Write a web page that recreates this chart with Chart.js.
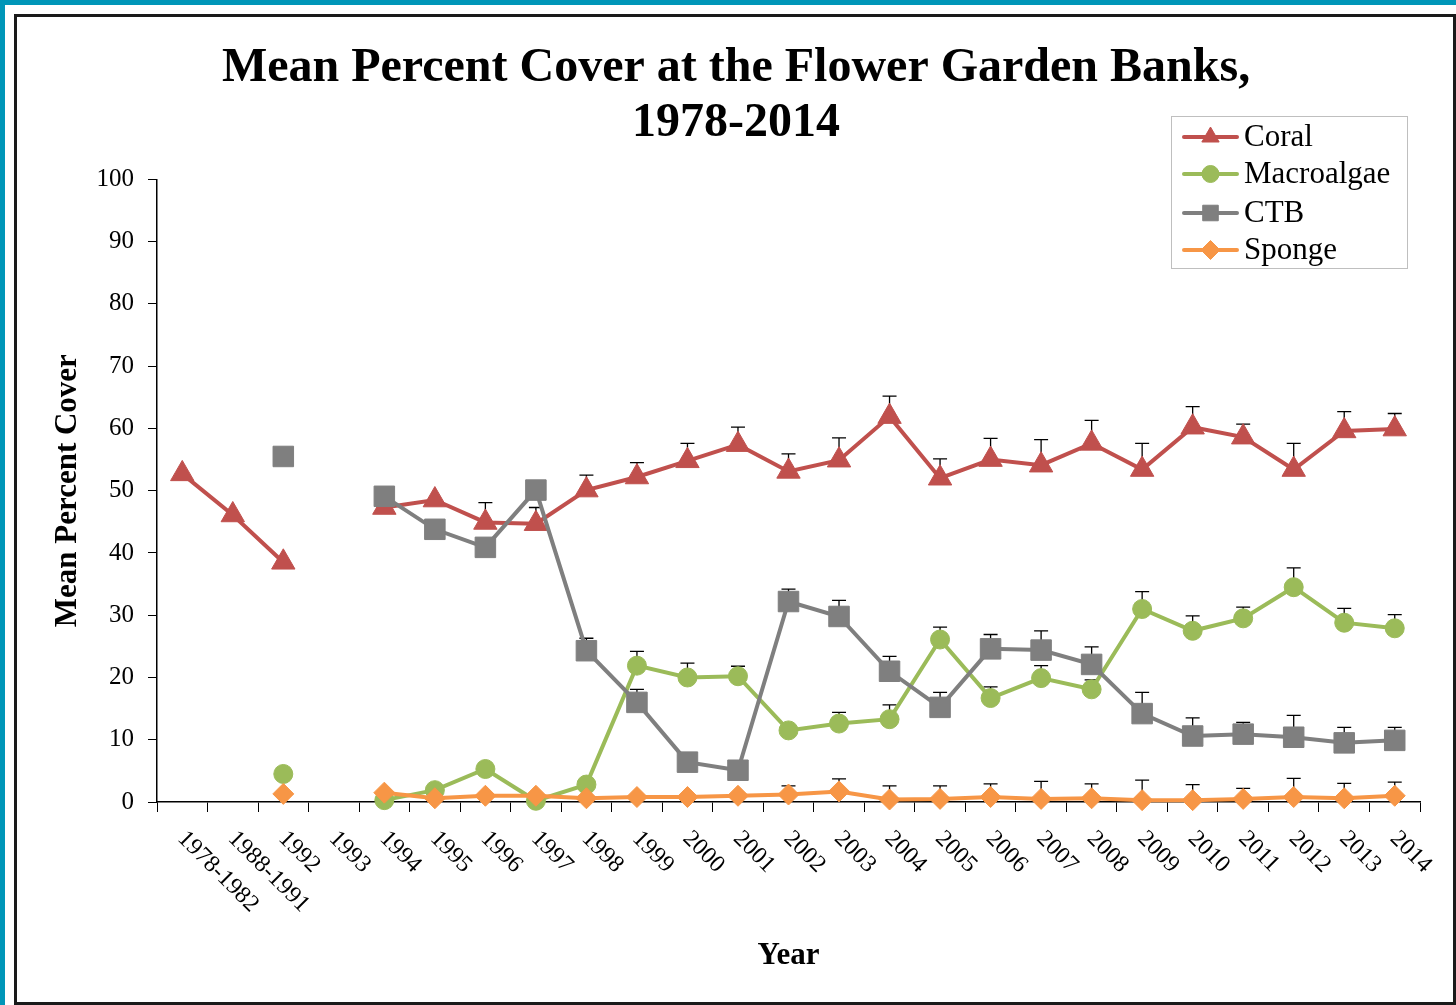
<!DOCTYPE html>
<html><head><meta charset="utf-8">
<script src="https://cdn.jsdelivr.net/npm/chart.js@4.4.0/dist/chart.umd.min.js"></script>
<style>
html,body{margin:0;padding:0;background:#fff;}
body{width:1456px;height:1005px;position:relative;overflow:hidden;}
#teal{position:absolute;left:0;top:0;width:1456px;height:1005px;border-top:5px solid #0096B8;border-left:5px solid #0096B8;box-sizing:border-box;}
#frame{position:absolute;left:14px;top:14px;width:1442px;height:991px;border:3px solid #1a1a1a;box-sizing:border-box;background:#fff;}
#c{position:absolute;left:17px;top:17px;}
</style></head><body>
<div id="teal"></div><div id="frame"></div>
<canvas id="c" width="1436" height="985"></canvas>
<script>
const categories = ['1978-1982','1988-1991','1992','1993','1994','1995','1996','1997','1998','1999','2000','2001','2002','2003','2004','2005','2006','2007','2008','2009','2010','2011','2012','2013','2014'];
const coral = [52.7,46.1,38.5,null,47.3,48.5,44.9,44.7,50.1,52.2,54.8,57.4,53.1,54.9,61.9,52.0,55.0,54.1,57.6,53.4,60.2,58.6,53.4,59.6,59.9];
const coralErrTop = [null,null,null,null,null,null,48.1,47.3,52.5,54.5,57.6,60.2,55.9,58.5,65.2,55.1,58.4,58.2,61.3,57.6,63.5,60.7,57.6,62.7,62.4];
const macroalgae = [null,null,4.5,null,0.3,1.9,5.3,0.2,2.8,21.9,20.0,20.2,11.5,12.6,13.3,26.1,16.7,19.9,18.1,31.0,27.5,29.5,34.5,28.8,27.9];
const macroalgaeErrTop = [null,null,null,null,null,null,null,null,null,24.2,22.3,21.8,null,14.4,15.6,28.1,18.5,21.9,19.6,33.8,29.9,31.3,37.6,31.1,30.1];
const ctb = [null,null,55.5,null,49.1,43.8,40.9,50.1,24.3,16.0,6.4,5.1,32.2,29.8,21.0,15.2,24.6,24.4,22.1,14.2,10.6,10.9,10.4,9.5,9.9];
const ctbErrTop = [null,null,null,null,null,null,null,null,26.3,18.1,null,null,34.2,32.4,23.4,17.6,26.9,27.5,24.9,17.6,13.5,12.8,13.9,12.0,12.0];
const sponge = [null,null,1.3,null,1.5,0.6,1.0,1.0,0.6,0.8,0.8,1.0,1.2,1.7,0.4,0.5,0.8,0.5,0.6,0.3,0.3,0.5,0.8,0.6,1.0];
const spongeErrTop = [null,null,null,null,null,null,null,null,null,null,null,null,2.6,3.7,2.6,2.6,2.9,3.3,2.9,3.5,2.8,2.2,3.8,3.0,3.2];
const yTicks = [0,10,20,30,40,50,60,70,80,90,100];

const SERIF = '"Liberation Serif", "Times New Roman", serif';
const COL = {coral:'#C0504D', macro:'#9BBB59', ctb:'#7F7F7F', sponge:'#F79646'};

function ds(label, data, err, color, style, r, order){
  return {label, data, errTop: err, borderColor: color, backgroundColor: color,
    pointBackgroundColor: color, pointBorderColor: color, pointBorderWidth: 1,
    borderWidth: 4, pointStyle: style, pointRadius: r, pointHoverRadius: r,
    spanGaps: false, tension: 0, order, clip: false,
    legendStyle: style};
}

const titleShiftPlugin = {
  id: 'titleshift',
  afterLayout(chart){
    if (chart.titleBlock) { chart.titleBlock.right += 35; chart.titleBlock.width += 35; }
  }
};

const errorBarPlugin = {
  id: 'errbars',
  beforeDatasetsDraw(chart){
    const ctx = chart.ctx, xs = chart.scales.x, ys = chart.scales.y;
    ctx.save();
    ctx.strokeStyle = '#000'; ctx.lineWidth = 1.3;
    chart.data.datasets.forEach(d => {
      (d.errTop || []).forEach((e, i) => {
        if (e == null || d.data[i] == null) return;
        const x = xs.getPixelForValue(i);
        const y0 = ys.getPixelForValue(d.data[i]);
        const y1 = ys.getPixelForValue(e);
        ctx.beginPath();
        ctx.moveTo(x, y0); ctx.lineTo(x, y1);
        ctx.moveTo(x - 7, y1); ctx.lineTo(x + 7, y1);
        ctx.stroke();
      });
    });
    ctx.restore();
  }
};

const xLabelPlugin = {
  id: 'xlabels',
  afterDraw(chart){
    const ctx = chart.ctx, xs = chart.scales.x;
    ctx.save();
    ctx.font = '24px ' + SERIF; ctx.fillStyle = '#000';
    ctx.textAlign = 'left'; ctx.textBaseline = 'middle';
    categories.forEach((lab, i) => {
      const px = xs.getPixelForValue(i);
      ctx.save();
      ctx.translate(px - 1, xs.top + 33);
      ctx.rotate(Math.PI / 4);
      ctx.fillText(lab, 0, 0);
      ctx.restore();
    });
    ctx.restore();
  }
};

const legendPlugin = {
  id: 'boxlegend',
  afterDraw(chart){
    const ctx = chart.ctx;
    const lx = 1154, ly = 99, lw = 236, lh = 152;
    ctx.save();
    ctx.fillStyle = '#fff'; ctx.fillRect(lx, ly, lw, lh);
    ctx.strokeStyle = '#BFBFBF'; ctx.lineWidth = 1;
    ctx.strokeRect(lx + 0.5, ly + 0.5, lw, lh);
    const rows = [120, 157, 196, 233];
    const radii = {triangle: 10, circle: 8.5, rect: 11, rectRot: 9.5};
    chart.data.datasets.forEach((d, k) => {
      const y = rows[k];
      ctx.strokeStyle = d.borderColor; ctx.lineWidth = 4; ctx.lineCap = 'round';
      ctx.beginPath(); ctx.moveTo(1167, y); ctx.lineTo(1220, y); ctx.stroke();
      ctx.lineCap = 'butt';
      ctx.fillStyle = d.borderColor; ctx.strokeStyle = d.borderColor; ctx.lineWidth = 1;
      Chart.helpers.drawPoint(ctx, {pointStyle: d.legendStyle, radius: radii[d.legendStyle], borderWidth: 1, rotation: 0}, 1193.5, y);
      ctx.fillStyle = '#000'; ctx.font = '31px ' + SERIF;
      ctx.textAlign = 'left'; ctx.textBaseline = 'middle';
      ctx.fillText(d.label, 1227, y + 1);
    });
    ctx.restore();
  }
};

new Chart(document.getElementById('c'), {
  type: 'line',
  data: {
    labels: categories,
    datasets: [
      ds('Coral', coral, coralErrTop, COL.coral, 'triangle', 13.5, 4),
      ds('Macroalgae', macroalgae, macroalgaeErrTop, COL.macro, 'circle', 9.5, 3),
      ds('CTB', ctb, ctbErrTop, COL.ctb, 'rect', 14.5, 2),
      ds('Sponge', sponge, spongeErrTop, COL.sponge, 'rectRot', 10.5, 1)
    ]
  },
  options: {
    responsive: false, animation: false, devicePixelRatio: 1,
    layout: {padding: {left: 0, right: 33, top: 0, bottom: 0}},
    plugins: {
      legend: {display: false},
      tooltip: {enabled: false},
      title: {display: true, text: ['Mean Percent Cover at the Flower Garden Banks,', '1978-2014'],
        color: '#000', font: {family: SERIF, size: 48, weight: 'bold', lineHeight: 1.15},
        padding: {top: 24, bottom: 28}}
    },
    scales: {
      x: {
        type: 'category', offset: true,
        grid: {offset: true, drawOnChartArea: false, drawTicks: true, tickLength: 10, color: '#000', lineWidth: 1},
        border: {display: true, color: '#000', width: 1.5},
        ticks: {display: false},
        title: {display: true, text: 'Year', color: '#000', font: {family: SERIF, size: 31, weight: 'bold'}, padding: {top: 0, bottom: 27}},
        afterFit: s => { s.height = 200; }
      },
      y: {
        min: 0, max: 100,
        afterBuildTicks: s => { s.ticks = yTicks.map(v => ({value: v})); },
        ticks: {color: '#000', font: {family: SERIF, size: 25}, padding: 14},
        grid: {drawOnChartArea: false, drawTicks: true, tickLength: 9, color: '#000', lineWidth: 1},
        border: {display: true, color: '#000', width: 1.5},
        title: {display: true, text: 'Mean Percent Cover', color: '#000', font: {family: SERIF, size: 31, weight: 'bold'}, padding: {top: 32, bottom: 0}},
        afterFit: s => { s.width = 140; }
      }
    }
  },
  plugins: [titleShiftPlugin, errorBarPlugin, xLabelPlugin, legendPlugin]
});
</script>
</body></html>
